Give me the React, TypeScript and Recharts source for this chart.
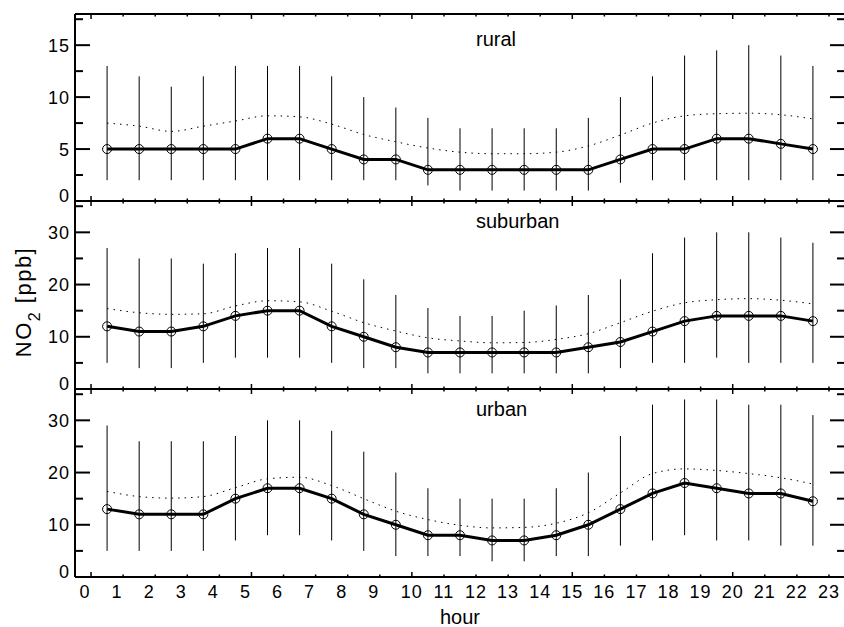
import React from "react";
import { ComposedChart, Line, XAxis, YAxis, ErrorBar } from "recharts";

// hour of day (bin centres) and axis ticks
const hours = [0.5, 1.5, 2.5, 3.5, 4.5, 5.5, 6.5, 7.5, 8.5, 9.5, 10.5, 11.5, 12.5, 13.5, 14.5, 15.5, 16.5, 17.5, 18.5, 19.5, 20.5, 21.5, 22.5];
const hourTicks = [0, 1, 2, 3, 4, 5, 6, 7, 8, 9, 10, 11, 12, 13, 14, 15, 16, 17, 18, 19, 20, 21, 22, 23];

// rural
const ruralMedian = [5, 5, 5, 5, 5, 6, 6, 5, 4, 4, 3, 3, 3, 3, 3, 3, 4, 5, 5, 6, 6, 5.5, 5];
const ruralMean = [7.5, 7.2, 6.7, 7.2, 7.7, 8.2, 8.1, 7.4, 6.4, 5.7, 5.1, 4.7, 4.55, 4.55, 4.7, 5.3, 6.35, 7.5, 8.2, 8.4, 8.45, 8.3, 7.9];
const ruralHigh = [13, 12, 11, 12, 13, 13, 13, 12, 10, 9, 8, 7, 7, 7, 7, 8, 10, 12, 14, 14.5, 15, 14, 13];
const ruralLow = [2, 2, 2, 2, 2, 2, 2, 2, 2, 2, 1.5, 1, 1, 1, 1, 1, 1.75, 2, 2, 2, 2, 2, 2];

// suburban
const suburbanMedian = [12, 11, 11, 12, 14, 15, 15, 12, 10, 8, 7, 7, 7, 7, 7, 8, 9, 11, 13, 14, 14, 14, 13];
const suburbanMean = [15.4, 14.6, 14.3, 14.4, 15.9, 16.9, 16.7, 14.9, 12.7, 11.1, 9.8, 9.2, 8.85, 8.9, 9.5, 10.6, 12.7, 14.9, 16.5, 17.1, 17.3, 17.0, 16.3];
const suburbanHigh = [27, 25, 25, 24, 26, 27, 27, 24, 21, 18, 15.5, 14, 14, 15, 16, 18, 21, 26, 29, 30, 30, 29, 28];
const suburbanLow = [5, 4, 4, 5, 6, 6, 6, 5, 4, 4, 3, 3, 3, 3, 3, 3, 4, 5, 5, 6, 5, 5, 5];

// urban
const urbanMedian = [13, 12, 12, 12, 15, 17, 17, 15, 12, 10, 8, 8, 7, 7, 8, 10, 13, 16, 18, 17, 16, 16, 14.5];
const urbanMean = [16.4, 15.4, 15.1, 15.4, 17.1, 18.8, 19.1, 17.5, 15.0, 12.6, 11.0, 9.9, 9.4, 9.5, 10.3, 12.3, 16.1, 19.8, 20.7, 20.4, 19.8, 19.0, 17.8];
const urbanHigh = [29, 26, 26, 26, 27, 30, 30, 28, 24, 20, 17, 15, 15, 15, 17, 20, 27, 33, 34, 34, 33, 33, 31];
const urbanLow = [5, 5, 5, 5, 7, 8, 8, 7, 5, 4, 4, 4, 3, 3, 4, 4, 6, 7, 8, 7, 7, 6, 6];

// y ticks (labelled + minor)
const ruralYTicks = [0, 2.5, 5, 7.5, 10, 12.5, 15, 17.5];
const ruralYLabels = [0, 5, 10, 15];
const no2YTicks = [0, 5, 10, 15, 20, 25, 30, 35];
const no2YLabels = [0, 10, 20, 30];

const FONT = "'Liberation Sans', Arial, Helvetica, sans-serif";

const buildRows = (median: number[], mean: number[], low: number[], high: number[]) =>
  hours.map((h, i) => ({
    h,
    median: median[i],
    mean: mean[i],
    err: [median[i] - low[i], high[i] - median[i]],
  }));

const axisLine = { stroke: "#000", strokeWidth: 2 };

const LeftTick = ({ x, y, payload, labels }: any) => {
  const v = payload.value;
  const major = labels.includes(v);
  return (
    <g>
      <line x1={x} x2={x + (major ? 15 : 8)} y1={y} y2={y} stroke="#000" strokeWidth={2} />
      {major && (
        <text x={x - 5} y={y + 6.5 - (v === 0 ? 6 : 0)} textAnchor="end" fontSize={18} fontFamily={FONT} letterSpacing={1} fill="#000">
          {v}
        </text>
      )}
    </g>
  );
};

const RightTick = ({ x, y, payload, labels }: any) => {
  const major = labels.includes(payload.value);
  return <line x1={x} x2={x - (major ? 15 : 8)} y1={y} y2={y} stroke="#000" strokeWidth={2} />;
};

const TopTick = ({ x, y, payload }: any) => {
  const major = payload.value % 5 === 0;
  return <line x1={x} x2={x} y1={y} y2={y + (major ? 5 : 2.5)} stroke="#000" strokeWidth={1.5} />;
};

const BottomTick = ({ x, y, payload, showLabel }: any) => {
  const v = payload.value;
  const major = v % 5 === 0;
  return (
    <g>
      <line x1={x} x2={x} y1={y} y2={y - (major ? 5 : 2.5)} stroke="#000" strokeWidth={1.5} />
      {showLabel && (
        <text x={x + (v < 10 ? -6 : 0)} y={y + 21} textAnchor="middle" fontSize={18} fontFamily={FONT} letterSpacing={1} fill="#000">
          {v}
        </text>
      )}
    </g>
  );
};

interface PanelProps {
  rows: any[];
  yMax: number;
  yTicks: number[];
  yLabels: number[];
  plotTop: number;
  plotHeight: number;
  showXLabels: boolean;
}

const PAD_TOP = 20;
const PAD_BOTTOM = 30;

const Panel: React.FC<PanelProps> = ({ rows, yMax, yTicks, yLabels, plotTop, plotHeight, showXLabels }) => (
  <div style={{ position: "absolute", left: 0, top: plotTop - PAD_TOP }}>
    <ComposedChart
      width={846}
      height={PAD_TOP + plotHeight + PAD_BOTTOM}
      data={rows}
      margin={{ top: PAD_TOP - 1, right: 0, bottom: PAD_BOTTOM - 1, left: 0 }}
    >
      <XAxis
        xAxisId="b"
        type="number"
        dataKey="h"
        domain={[-0.5, 23.5]}
        ticks={hourTicks}
        interval={0}
        allowDataOverflow
        height={1}
        tickSize={0}
        tickMargin={0}
        tickLine={false}
        axisLine={axisLine}
        tick={(p: any) => <BottomTick {...p} showLabel={showXLabels} />}
      />
      <XAxis
        xAxisId="t"
        orientation="top"
        type="number"
        dataKey="h"
        domain={[-0.5, 23.5]}
        ticks={hourTicks}
        interval={0}
        allowDataOverflow
        height={1}
        tickSize={0}
        tickMargin={0}
        tickLine={false}
        axisLine={axisLine}
        tick={(p: any) => <TopTick {...p} />}
      />
      <YAxis
        yAxisId="l"
        type="number"
        domain={[0, yMax]}
        ticks={yTicks}
        interval={0}
        allowDataOverflow
        width={75}
        tickSize={0}
        tickMargin={0}
        tickLine={false}
        axisLine={axisLine}
        tick={(p: any) => <LeftTick {...p} labels={yLabels} />}
      />
      <YAxis
        yAxisId="r"
        orientation="right"
        type="number"
        domain={[0, yMax]}
        ticks={yTicks}
        interval={0}
        allowDataOverflow
        width={1}
        tickSize={0}
        tickMargin={0}
        tickLine={false}
        axisLine={axisLine}
        tick={(p: any) => <RightTick {...p} labels={yLabels} />}
      />
      {/* keeps the mirrored top/right axes bound to a series */}
      <Line xAxisId="t" yAxisId="r" dataKey="median" stroke="none" dot={false} isAnimationActive={false} />
      <Line xAxisId="b" yAxisId="l" dataKey="median" stroke="none" dot={false} isAnimationActive={false}>
        <ErrorBar dataKey="err" width={0} stroke="#000" strokeWidth={1} direction="y" isAnimationActive={false} />
      </Line>
      <Line
        xAxisId="b"
        yAxisId="l"
        dataKey="mean"
        type="monotone"
        stroke="#000"
        strokeWidth={1}
        strokeDasharray="1.5 5"
        dot={false}
        isAnimationActive={false}
      />
      <Line
        xAxisId="b"
        yAxisId="l"
        dataKey="median"
        type="linear"
        stroke="#000"
        strokeWidth={3}
        dot={{ r: 4.5, stroke: "#000", strokeWidth: 1, fill: "none" }}
        isAnimationActive={false}
      />
    </ComposedChart>
  </div>
);

export default function App() {
  const rural = buildRows(ruralMedian, ruralMean, ruralLow, ruralHigh);
  const suburban = buildRows(suburbanMedian, suburbanMean, suburbanLow, suburbanHigh);
  const urban = buildRows(urbanMedian, urbanMean, urbanLow, urbanHigh);

  return (
    <div style={{ position: "absolute", left: 0, top: 0, width: 844, height: 627, overflow: "hidden", background: "#fff" }}>
      <Panel rows={rural} yMax={18} yTicks={ruralYTicks} yLabels={ruralYLabels} plotTop={14} plotHeight={187} showXLabels={false} />
      <Panel rows={suburban} yMax={36} yTicks={no2YTicks} yLabels={no2YLabels} plotTop={201} plotHeight={188} showXLabels={false} />
      <Panel rows={urban} yMax={36} yTicks={no2YTicks} yLabels={no2YLabels} plotTop={389} plotHeight={188} showXLabels={true} />
      <svg width={844} height={627} style={{ position: "absolute", left: 0, top: 0, pointerEvents: "none" }} fontFamily={FONT}>
        <text x={476} y={45.5} fontSize={20} fill="#000">rural</text>
        <text x={476} y={228} fontSize={20} fill="#000">suburban</text>
        <text x={476} y={416} fontSize={20} fill="#000">urban</text>
        <text x={460} y={624} fontSize={20} textAnchor="middle" fill="#000">hour</text>
        <text transform="translate(31, 302) rotate(-90)" fontSize={22} textAnchor="middle" letterSpacing={1.5} fill="#000">
          NO<tspan fontSize={16} dy={9}>2</tspan>
          <tspan dy={-9}> [ppb]</tspan>
        </text>
      </svg>
    </div>
  );
}
